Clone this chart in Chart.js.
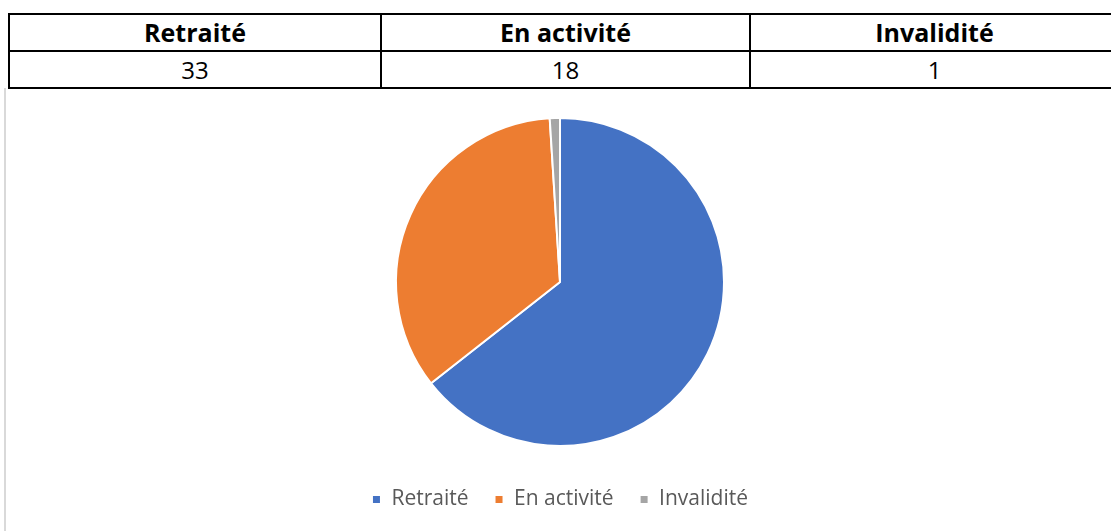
<!DOCTYPE html>
<html>
<head>
<meta charset="utf-8">
<script src="https://cdn.jsdelivr.net/npm/chart.js@4"></script>
<style>
    body { margin: 0; background: #fff; font-family: "Open Sans", sans-serif; }
    table {
        position: absolute; left: 8px; top: 13px;
        border-collapse: collapse; width: 1112px;
    }
    td, th {
        border: 2px solid #000; text-align: center;
        height: 35px; padding: 0; color: #000; line-height: 1;
    }
    th { font-size: 25px; font-weight: bold; }
    td { font-size: 24px; }
    #box {
        position: absolute; left: 4px; top: 88px;
        width: 1112px; height: 445px;
        border: 2px solid #d9d9d9; border-top: none; box-sizing: border-box;
    }
</style>
</head>
<body>
<table>
    <tr><th style="width:370px">Retraité</th><th style="width:367px">En activité</th><th>Invalidité</th></tr>
    <tr><td>33</td><td>18</td><td>1</td></tr>
</table>
<div id="box"><canvas id="pieChart"></canvas></div>
<script>
// table header and counts
const categories = ["Retraité", "En activité", "Invalidité"];
const counts = [33, 18, 1];

// slice shares (%) as drawn in the pie
const shares = [64.4, 34.6, 1.0];
const colors = ["#4472C4", "#ED7D31", "#A5A5A5"];

const pieCtx = document.getElementById("pieChart");

new Chart(pieCtx, {
    type: "pie",
    data: {
        labels: categories,
        datasets: [{
            data: shares,
            backgroundColor: colors,
            borderColor: "#ffffff",
            borderWidth: 2
        }]
    },
    options: {
        responsive: true,
        maintainAspectRatio: false,
        animation: false,
        layout: {
            padding: { top: 29, bottom: 11 }
        },
        plugins: {
            legend: {
                position: "bottom",
                // empty title only to leave a gap above the legend row
                title: {
                    display: true,
                    text: " ",
                    padding: 0,
                    font: { size: 10, lineHeight: 1.6 }
                },
                labels: {
                    boxWidth: 9,
                    boxHeight: 9,
                    padding: 26,
                    color: "#595959",
                    font: { size: 21, family: "Open Sans" }
                }
            },
            tooltip: { enabled: false }
        }
    }
});
</script>
</body>
</html>
